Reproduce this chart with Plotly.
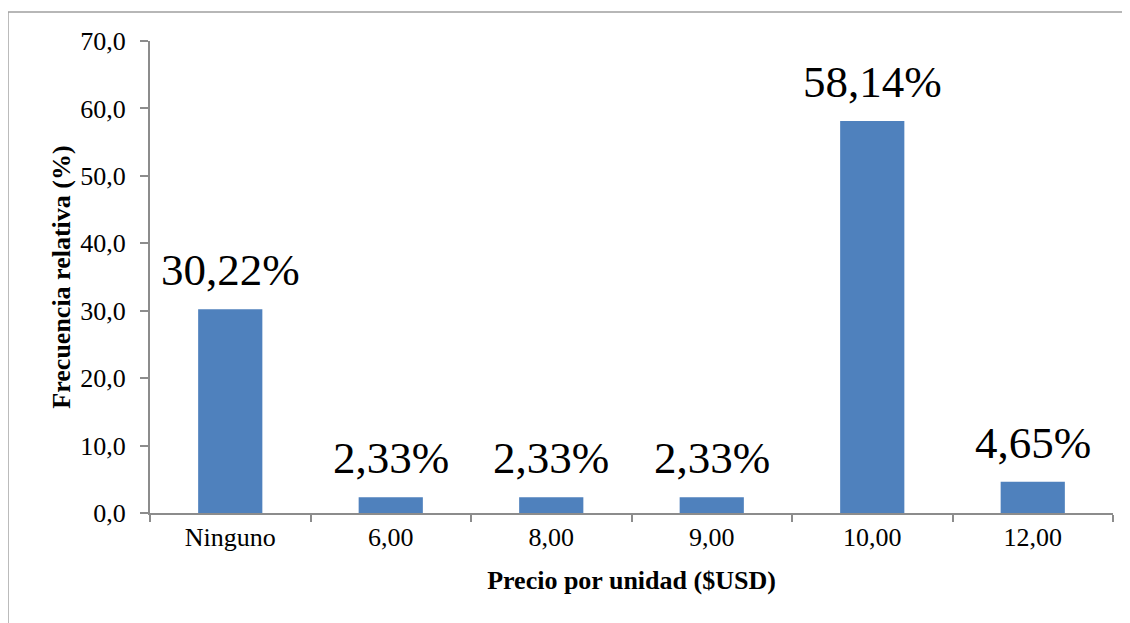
import plotly.graph_objects as go

# ── Data ─────────────────────────────────────────────────────────────────────
categories = ["Ninguno", "6,00", "8,00", "9,00", "10,00", "12,00"]
freq_pct = [30.22, 2.33, 2.33, 2.33, 58.14, 4.65]
y_ticks = [0, 10, 20, 30, 40, 50, 60, 70]

FONT = "Liberation Serif, Times New Roman, serif"
AXIS_GRAY = "#8c8c8c"

fig = go.Figure()
fig.add_bar(
    x=categories,
    y=freq_pct,
    marker_color="#4f81bd",
    marker_line_width=0,
)

# value labels sit a bit higher above the bars than plotly's "outside" text
for cat, val in zip(categories, freq_pct):
    fig.add_annotation(
        x=cat,
        y=val,
        text=f"{val:.2f}%".replace(".", ","),
        showarrow=False,
        yanchor="bottom",
        yshift=12,
        font=dict(family=FONT, size=45, color="black"),
    )

# page body has an 8px margin, so the figure is sized to fit the window
fig.update_layout(
    width=1122,
    height=615,
    margin=dict(t=33, b=110, l=142, r=17),
    paper_bgcolor="white",
    plot_bgcolor="white",
    separators=",.",
    showlegend=False,
    bargap=0.6,
    font=dict(family=FONT, color="black"),
    xaxis=dict(
        showline=True,
        linecolor=AXIS_GRAY,
        linewidth=2,
        ticks="outside",
        tickson="boundaries",
        ticklen=7,
        tickcolor=AXIS_GRAY,
        tickwidth=2,
        tickfont=dict(family=FONT, size=26),
        title=dict(text="<b>Precio por unidad ($USD)</b>", font=dict(family=FONT, size=26), standoff=20),
    ),
    yaxis=dict(
        range=[0, 70],
        tickvals=y_ticks,
        tickformat=".1f",
        showline=True,
        linecolor=AXIS_GRAY,
        linewidth=2,
        showgrid=False,
        zeroline=False,
        ticks="outside",
        ticklen=8,
        tickcolor=AXIS_GRAY,
        tickwidth=2,
        ticklabelstandoff=9,
        tickfont=dict(family=FONT, size=26),
        title=dict(text="<b>Frecuencia relativa (%)</b>", font=dict(family=FONT, size=26), standoff=2),
    ),
    shapes=[
        dict(
            type="rect",
            xref="paper",
            yref="paper",
            x0=-0.1475,
            x1=1.2,
            y0=-0.5,
            y1=1.0614,
            line=dict(color="#a0a0a0", width=1.5),
            layer="below",
        )
    ],
)

fig.write_html("out.html")
